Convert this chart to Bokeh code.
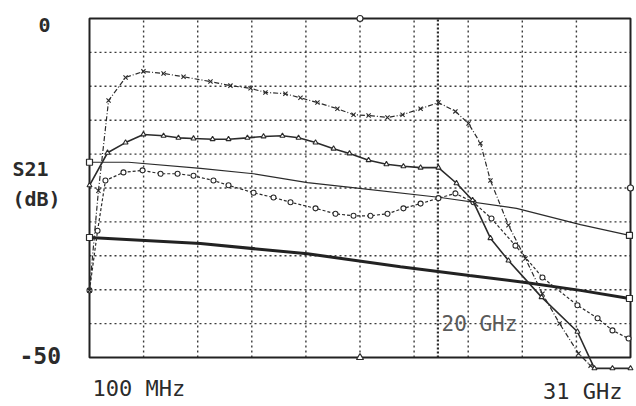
from bokeh.plotting import figure
from bokeh.models import Range1d, Label
from bokeh.embed import file_html
from bokeh.resources import INLINE

# ---- data (frequency in GHz, S21 in dB) ----
t1_f = [0.1, 0.61, 1.19, 2.16, 3.18, 4.33, 5.47, 7.01, 8.15, 9.30, 10.15, 11.29, 12.15, 13.12,
        14.26, 15.18, 16.04, 17.12, 17.98, 19.01, 20.03, 21.0, 21.75, 22.43, 23.0, 24.03, 25.0,
        25.97, 26.95, 28.03, 28.72]
t1_db = [-40.1, -25.4, -12.1, -8.7, -7.8, -8.1, -8.6, -9.3, -9.9, -10.3, -10.9, -11.1, -11.7, -12.4,
         -13.3, -14.2, -14.3, -14.6, -14.2, -13.3, -12.4, -13.7, -15.5, -18.4, -23.9, -30.5, -35.4,
         -40.6, -45.0, -49.4, -51.2]

t2_f = [0.1, 1.13, 2.16, 3.18, 4.33, 5.18, 6.04, 7.13, 8.04, 9.12, 10.04, 11.12, 12.04, 13.01,
        14.04, 14.95, 16.04, 17.06, 18.03, 19.01, 20.03, 21.06, 21.98, 23.0, 24.03, 25.92, 27.97,
        28.94, 29.97, 31.0]
t2_db = [-24.6, -19.8, -18.3, -17.1, -17.3, -17.6, -17.7, -17.8, -17.8, -17.6, -17.4, -17.3, -17.6, -18.3,
         -19.2, -19.9, -20.9, -21.5, -21.8, -22.0, -22.0, -24.3, -26.8, -32.4, -35.7, -41.1, -46.2,
         -51.6, -51.6, -51.6]

t3_f = [0.1, 2.33, 6.44, 9.47, 12.55, 15.01, 20.15, 24.49, 28.14, 30.94]
t3_db = [-21.2, -21.2, -22.1, -22.9, -24.2, -24.9, -26.4, -28.0, -30.4, -32.0]

t4_f = [0.1, 0.56, 1.01, 2.04, 3.13, 4.16, 5.13, 6.04, 7.18, 8.04, 9.47, 10.61, 11.58, 13.01,
        14.15, 15.18, 16.15, 17.12, 18.03, 19.01, 20.03, 21.0, 22.03, 23.06, 24.43, 25.97,
        27.97, 29.12, 29.97, 30.89]
t4_db = [-40.1, -31.3, -23.9, -22.7, -22.4, -22.9, -22.9, -23.2, -23.9, -24.6, -25.7, -26.4, -27.1, -28.0,
         -28.8, -29.1, -29.1, -28.8, -28.0, -27.3, -26.5, -25.8, -27.1, -29.5, -33.5, -38.2,
         -42.3, -44.2, -46.0, -47.2]

t5_f = [0.1, 6.44, 12.55, 17.86, 21.8, 24.89, 28.14, 30.94]
t5_db = [-32.3, -33.2, -34.7, -36.6, -37.9, -38.9, -40.1, -41.3]

F_MIN, F_MAX = 0.1, 31.0
DB_MIN, DB_MAX = -50.0, 0.0
N_DIV = 10
MARKER_F = 20.0

# ---- layout: the frame covers the full canvas; the graticule box sits inside ----
W, H = 636, 404
BOX_L, BOX_R, BOX_T, BOX_B = 89, 630, 18, 357   # canvas px
sx = (BOX_R - BOX_L) / (F_MAX - F_MIN)
sy = (BOX_B - BOX_T) / (DB_MAX - DB_MIN)
x_start = F_MIN - BOX_L / sx
x_end = F_MAX + (W - BOX_R) / sx
y_end = DB_MAX + BOX_T / sy
y_start = DB_MIN - (H - BOX_B) / sy


def X(px):
    return x_start + px / sx


def Y(py):
    return y_end - py / sy


p = figure(width=W, height=H, x_range=Range1d(x_start, x_end), y_range=Range1d(y_start, y_end),
           x_axis_type=None, y_axis_type=None, output_backend="svg", toolbar_location=None,
           min_border=0, min_border_left=0, min_border_right=0, min_border_top=0,
           min_border_bottom=0, outline_line_color=None, background_fill_color="white",
           border_fill_color="white")

INK = "#2b2b2b"
GRID = "#3a3a3a"

# graticule
fstep = (F_MAX - F_MIN) / N_DIV
dstep = (DB_MAX - DB_MIN) / N_DIV
xg = [F_MIN + fstep * k for k in range(1, N_DIV)]
yg = [DB_MIN + dstep * k for k in range(1, N_DIV)]
p.segment(x0=xg, y0=[DB_MIN] * len(xg), x1=xg, y1=[DB_MAX] * len(xg),
          line_color=GRID, line_width=1.4, line_dash="2 3")
p.segment(x0=[F_MIN] * len(yg), y0=yg, x1=[F_MAX] * len(yg), y1=yg,
          line_color=GRID, line_width=1.4, line_dash="2 3")
p.segment(x0=[MARKER_F], y0=[DB_MIN], x1=[MARKER_F], y1=[DB_MAX],
          line_color=INK, line_width=2.2, line_dash="2 2")
p.quad(left=[F_MIN], right=[F_MAX], bottom=[DB_MIN], top=[DB_MAX],
       fill_color=None, line_color="#222222", line_width=2)

# frame markers
fmid = (F_MIN + F_MAX) / 2
p.scatter([fmid], [DB_MAX], marker="circle", size=6, fill_color="white", line_color=INK, line_width=1.2)
p.scatter([fmid], [DB_MIN], marker="triangle", size=7, fill_color="white", line_color=INK, line_width=1.2)
p.scatter([F_MAX], [(DB_MIN + DB_MAX) / 2], marker="circle", size=6, fill_color="white",
          line_color=INK, line_width=1.2)

# traces
p.line(t5_f, t5_db, line_color="#222222", line_width=3)
p.scatter([t5_f[0], t5_f[-1]], [t5_db[0], t5_db[-1]], marker="square", size=6,
          fill_color="white", line_color=INK, line_width=1.2)

p.line(t3_f, t3_db, line_color=INK, line_width=1.2)
p.scatter([t3_f[0], t3_f[-1]], [t3_db[0], t3_db[-1]], marker="square", size=6,
          fill_color="white", line_color=INK, line_width=1.2)

p.line(t4_f, t4_db, line_color=INK, line_width=1.2, line_dash="3 2")
p.scatter(t4_f, t4_db, marker="circle", size=5, fill_color="white", line_color=INK, line_width=1.1)

p.line(t2_f, t2_db, line_color=INK, line_width=1.6)
p.scatter(t2_f, t2_db, marker="triangle", size=5, fill_color="white", line_color=INK, line_width=1.1)

p.line(t1_f, t1_db, line_color=INK, line_width=1.2, line_dash="5 2 1 2")
p.scatter(t1_f, t1_db, marker="x", size=6, line_color=INK, line_width=1.1)

# texts (y given as the vertical centre of the capitals)
MONO = "DejaVu Sans Mono"


def lab(txt, left, mid, size, bold=False, color=INK, align="left"):
    p.add_layout(Label(x=X(left), y=Y(mid), text=txt, text_align=align,
                       text_baseline="alphabetic", text_font=MONO, text_font_size=size,
                       text_font_style="bold" if bold else "normal", text_color=color))


lab("0", 38, 24.5, "20px", bold=True)
lab("S21", 12, 168.5, "20px", bold=True)
lab("(dB)", 12, 198, "20px", bold=True)
lab("-50", 19, 355, "23px", bold=True)
lab("100 MHz", 92, 388, "22px")
lab("31 GHz", 622, 391, "22px", align="right")
lab("20 GHz", 441, 323.5, "21px", color="#5a5a5a")

open("out.html", "w").write(file_html(p, INLINE))
